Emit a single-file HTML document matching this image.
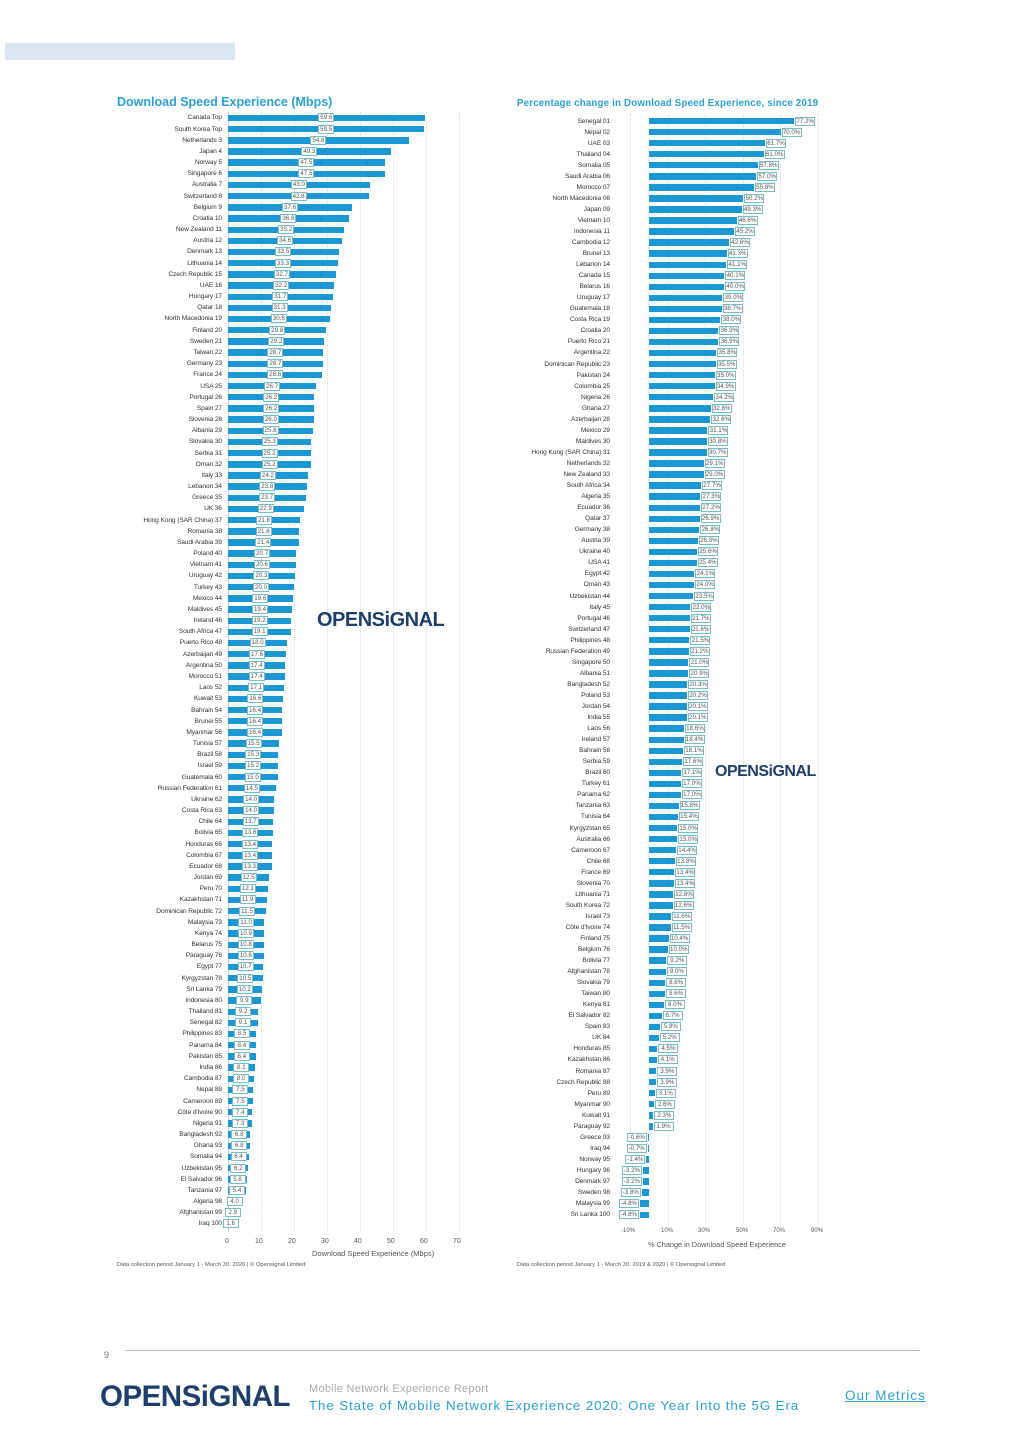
<!DOCTYPE html>
<html><head><meta charset="utf-8"><style>
*{margin:0;padding:0;box-sizing:border-box}
body{width:1024px;height:1449px;background:#fff;position:relative;overflow:hidden;font-family:"Liberation Sans",sans-serif}
.L{position:absolute;left:0;top:112.4px;width:1024px}
.R{position:absolute;left:0;top:115.5px;width:1024px}
.a,.p,.n{position:relative;width:1024px}
.a{height:11.18px}.p,.n{height:11.06px}
.a i,.p i,.n i{font-style:normal;position:absolute;font-size:6.6px;color:#333;line-height:11px;white-space:nowrap;letter-spacing:-0.1px}
.a i{right:802px}.p i,.n i{right:414px}
.a b,.p b,.n b{position:absolute;top:2.4px;height:6.4px;background:#1b98d3}
.a b{left:228px;width:calc(var(--v)*3.3px)}
.p b{left:649px;width:calc(var(--v)*1.88px)}
.n b{left:calc(649px - var(--v)*1.88px);width:calc(var(--v)*1.88px)}
.a u,.p u,.n u{text-decoration:none;position:absolute;top:1px;height:9px;background:#fff;border:1px solid #7bbcc8;font-size:6.2px;line-height:7px;text-align:center;color:#555}
.a u{width:16px;left:calc(228px + var(--v)*1.65px - 8px)}
.p u{width:20px;left:calc(649px + var(--v)*1.88px + 1px)}
.n u{width:20px;left:calc(649px - var(--v)*1.88px - 21px)}
.g{position:absolute;border-left:1px dotted #ddd}
.t{position:absolute;font-size:7px;color:#555}
.logo{position:absolute;font-weight:bold;color:#1f3f6b;letter-spacing:-0.5px}
</style></head><body>
<div style="position:absolute;left:5px;top:43px;width:230px;height:17px;background:#dde6f3"></div>
<div style="position:absolute;left:117px;top:95px;font-size:12.5px;font-weight:bold;color:#2aa0d4">Download Speed Experience (Mbps)</div>
<div style="position:absolute;left:517px;top:98px;font-size:9.7px;font-weight:bold;color:#2aa0d4;letter-spacing:0.2px">Percentage change in Download Speed Experience, since 2019</div>
<div class="g" style="left:261px;top:112px;height:1120px"></div><div class="g" style="left:294px;top:112px;height:1120px"></div><div class="g" style="left:327px;top:112px;height:1120px"></div><div class="g" style="left:360px;top:112px;height:1120px"></div><div class="g" style="left:393px;top:112px;height:1120px"></div><div class="g" style="left:426px;top:112px;height:1120px"></div><div class="g" style="left:459px;top:112px;height:1120px"></div>
<div class="g" style="left:228px;top:112px;height:1120px;border-left:1px solid #ccc"></div>
<div class="g" style="left:630px;top:114px;height:1110px"></div><div class="g" style="left:668px;top:114px;height:1110px"></div><div class="g" style="left:705px;top:114px;height:1110px"></div><div class="g" style="left:743px;top:114px;height:1110px"></div><div class="g" style="left:780px;top:114px;height:1110px"></div><div class="g" style="left:818px;top:114px;height:1110px"></div>
<div class="L">
<div class="a" style="--v:59.6"><i>Canada Top</i><b></b><u>59.6</u></div>
<div class="a" style="--v:59.5"><i>South Korea Top</i><b></b><u>59.5</u></div>
<div class="a" style="--v:54.8"><i>Netherlands 3</i><b></b><u>54.8</u></div>
<div class="a" style="--v:49.3"><i>Japan 4</i><b></b><u>49.3</u></div>
<div class="a" style="--v:47.5"><i>Norway 5</i><b></b><u>47.5</u></div>
<div class="a" style="--v:47.5"><i>Singapore 6</i><b></b><u>47.5</u></div>
<div class="a" style="--v:43.0"><i>Australia 7</i><b></b><u>43.0</u></div>
<div class="a" style="--v:42.8"><i>Switzerland 8</i><b></b><u>42.8</u></div>
<div class="a" style="--v:37.6"><i>Belgium 9</i><b></b><u>37.6</u></div>
<div class="a" style="--v:36.6"><i>Croatia 10</i><b></b><u>36.6</u></div>
<div class="a" style="--v:35.2"><i>New Zealand 11</i><b></b><u>35.2</u></div>
<div class="a" style="--v:34.6"><i>Austria 12</i><b></b><u>34.6</u></div>
<div class="a" style="--v:33.5"><i>Denmark 13</i><b></b><u>33.5</u></div>
<div class="a" style="--v:33.3"><i>Lithuania 14</i><b></b><u>33.3</u></div>
<div class="a" style="--v:32.7"><i>Czech Republic 15</i><b></b><u>32.7</u></div>
<div class="a" style="--v:32.2"><i>UAE 16</i><b></b><u>32.2</u></div>
<div class="a" style="--v:31.7"><i>Hungary 17</i><b></b><u>31.7</u></div>
<div class="a" style="--v:31.3"><i>Qatar 18</i><b></b><u>31.3</u></div>
<div class="a" style="--v:30.8"><i>North Macedonia 19</i><b></b><u>30.8</u></div>
<div class="a" style="--v:29.8"><i>Finland 20</i><b></b><u>29.8</u></div>
<div class="a" style="--v:29.2"><i>Sweden 21</i><b></b><u>29.2</u></div>
<div class="a" style="--v:28.7"><i>Taiwan 22</i><b></b><u>28.7</u></div>
<div class="a" style="--v:28.7"><i>Germany 23</i><b></b><u>28.7</u></div>
<div class="a" style="--v:28.6"><i>France 24</i><b></b><u>28.6</u></div>
<div class="a" style="--v:26.7"><i>USA 25</i><b></b><u>26.7</u></div>
<div class="a" style="--v:26.2"><i>Portugal 26</i><b></b><u>26.2</u></div>
<div class="a" style="--v:26.2"><i>Spain 27</i><b></b><u>26.2</u></div>
<div class="a" style="--v:26.0"><i>Slovenia 28</i><b></b><u>26.0</u></div>
<div class="a" style="--v:25.8"><i>Albania 29</i><b></b><u>25.8</u></div>
<div class="a" style="--v:25.3"><i>Slovakia 30</i><b></b><u>25.3</u></div>
<div class="a" style="--v:25.2"><i>Serbia 31</i><b></b><u>25.2</u></div>
<div class="a" style="--v:25.2"><i>Oman 32</i><b></b><u>25.2</u></div>
<div class="a" style="--v:24.2"><i>Italy 33</i><b></b><u>24.2</u></div>
<div class="a" style="--v:23.8"><i>Lebanon 34</i><b></b><u>23.8</u></div>
<div class="a" style="--v:23.7"><i>Greece 35</i><b></b><u>23.7</u></div>
<div class="a" style="--v:22.9"><i>UK 36</i><b></b><u>22.9</u></div>
<div class="a" style="--v:21.8"><i>Hong Kong (SAR China) 37</i><b></b><u>21.8</u></div>
<div class="a" style="--v:21.6"><i>Romania 38</i><b></b><u>21.6</u></div>
<div class="a" style="--v:21.4"><i>Saudi Arabia 39</i><b></b><u>21.4</u></div>
<div class="a" style="--v:20.7"><i>Poland 40</i><b></b><u>20.7</u></div>
<div class="a" style="--v:20.6"><i>Vietnam 41</i><b></b><u>20.6</u></div>
<div class="a" style="--v:20.3"><i>Uruguay 42</i><b></b><u>20.3</u></div>
<div class="a" style="--v:20.0"><i>Turkey 43</i><b></b><u>20.0</u></div>
<div class="a" style="--v:19.6"><i>Mexico 44</i><b></b><u>19.6</u></div>
<div class="a" style="--v:19.4"><i>Maldives 45</i><b></b><u>19.4</u></div>
<div class="a" style="--v:19.2"><i>Ireland 46</i><b></b><u>19.2</u></div>
<div class="a" style="--v:19.1"><i>South Africa 47</i><b></b><u>19.1</u></div>
<div class="a" style="--v:18.0"><i>Puerto Rico 48</i><b></b><u>18.0</u></div>
<div class="a" style="--v:17.6"><i>Azerbaijan 49</i><b></b><u>17.6</u></div>
<div class="a" style="--v:17.4"><i>Argentina 50</i><b></b><u>17.4</u></div>
<div class="a" style="--v:17.4"><i>Morocco 51</i><b></b><u>17.4</u></div>
<div class="a" style="--v:17.1"><i>Laos 52</i><b></b><u>17.1</u></div>
<div class="a" style="--v:16.6"><i>Kuwait 53</i><b></b><u>16.6</u></div>
<div class="a" style="--v:16.4"><i>Bahrain 54</i><b></b><u>16.4</u></div>
<div class="a" style="--v:16.4"><i>Brunei 55</i><b></b><u>16.4</u></div>
<div class="a" style="--v:16.4"><i>Myanmar 56</i><b></b><u>16.4</u></div>
<div class="a" style="--v:15.5"><i>Tunisia 57</i><b></b><u>15.5</u></div>
<div class="a" style="--v:15.3"><i>Brazil 58</i><b></b><u>15.3</u></div>
<div class="a" style="--v:15.2"><i>Israel 59</i><b></b><u>15.2</u></div>
<div class="a" style="--v:15.0"><i>Guatemala 60</i><b></b><u>15.0</u></div>
<div class="a" style="--v:14.5"><i>Russian Federation 61</i><b></b><u>14.5</u></div>
<div class="a" style="--v:14.0"><i>Ukraine 62</i><b></b><u>14.0</u></div>
<div class="a" style="--v:14.0"><i>Costa Rica 63</i><b></b><u>14.0</u></div>
<div class="a" style="--v:13.7"><i>Chile 64</i><b></b><u>13.7</u></div>
<div class="a" style="--v:13.6"><i>Bolivia 65</i><b></b><u>13.6</u></div>
<div class="a" style="--v:13.4"><i>Honduras 66</i><b></b><u>13.4</u></div>
<div class="a" style="--v:13.4"><i>Colombia 67</i><b></b><u>13.4</u></div>
<div class="a" style="--v:13.3"><i>Ecuador 68</i><b></b><u>13.3</u></div>
<div class="a" style="--v:12.5"><i>Jordan 69</i><b></b><u>12.5</u></div>
<div class="a" style="--v:12.1"><i>Peru 70</i><b></b><u>12.1</u></div>
<div class="a" style="--v:11.9"><i>Kazakhstan 71</i><b></b><u>11.9</u></div>
<div class="a" style="--v:11.5"><i>Dominican Republic 72</i><b></b><u>11.5</u></div>
<div class="a" style="--v:11.0"><i>Malaysia 73</i><b></b><u>11.0</u></div>
<div class="a" style="--v:10.9"><i>Kenya 74</i><b></b><u>10.9</u></div>
<div class="a" style="--v:10.8"><i>Belarus 75</i><b></b><u>10.8</u></div>
<div class="a" style="--v:10.8"><i>Paraguay 76</i><b></b><u>10.8</u></div>
<div class="a" style="--v:10.7"><i>Egypt 77</i><b></b><u>10.7</u></div>
<div class="a" style="--v:10.5"><i>Kyrgyzstan 78</i><b></b><u>10.5</u></div>
<div class="a" style="--v:10.2"><i>Sri Lanka 79</i><b></b><u>10.2</u></div>
<div class="a" style="--v:9.9"><i>Indonesia 80</i><b></b><u>9.9</u></div>
<div class="a" style="--v:9.2"><i>Thailand 81</i><b></b><u>9.2</u></div>
<div class="a" style="--v:9.1"><i>Senegal 82</i><b></b><u>9.1</u></div>
<div class="a" style="--v:8.5"><i>Philippines 83</i><b></b><u>8.5</u></div>
<div class="a" style="--v:8.4"><i>Panama 84</i><b></b><u>8.4</u></div>
<div class="a" style="--v:8.4"><i>Pakistan 85</i><b></b><u>8.4</u></div>
<div class="a" style="--v:8.1"><i>India 86</i><b></b><u>8.1</u></div>
<div class="a" style="--v:8.0"><i>Cambodia 87</i><b></b><u>8.0</u></div>
<div class="a" style="--v:7.5"><i>Nepal 88</i><b></b><u>7.5</u></div>
<div class="a" style="--v:7.5"><i>Cameroon 89</i><b></b><u>7.5</u></div>
<div class="a" style="--v:7.4"><i>Côte d'Ivoire 90</i><b></b><u>7.4</u></div>
<div class="a" style="--v:7.3"><i>Nigeria 91</i><b></b><u>7.3</u></div>
<div class="a" style="--v:6.8"><i>Bangladesh 92</i><b></b><u>6.8</u></div>
<div class="a" style="--v:6.8"><i>Ghana 93</i><b></b><u>6.8</u></div>
<div class="a" style="--v:6.4"><i>Somalia 94</i><b></b><u>6.4</u></div>
<div class="a" style="--v:6.2"><i>Uzbekistan 95</i><b></b><u>6.2</u></div>
<div class="a" style="--v:5.8"><i>El Salvador 96</i><b></b><u>5.8</u></div>
<div class="a" style="--v:5.4"><i>Tanzania 97</i><b></b><u>5.4</u></div>
<div class="a" style="--v:4.0"><i>Algeria 98</i><b></b><u>4.0</u></div>
<div class="a" style="--v:2.9"><i>Afghanistan 99</i><b></b><u>2.9</u></div>
<div class="a" style="--v:1.6"><i>Iraq 100</i><b></b><u>1.6</u></div>
</div>
<div class="R">
<div class="p" style="--v:77.2"><i>Senegal 01</i><b></b><u>77.2%</u></div>
<div class="p" style="--v:70.0"><i>Nepal 02</i><b></b><u>70.0%</u></div>
<div class="p" style="--v:61.7"><i>UAE 03</i><b></b><u>61.7%</u></div>
<div class="p" style="--v:61.0"><i>Thailand 04</i><b></b><u>61.0%</u></div>
<div class="p" style="--v:57.8"><i>Somalia 05</i><b></b><u>57.8%</u></div>
<div class="p" style="--v:57.0"><i>Saudi Arabia 06</i><b></b><u>57.0%</u></div>
<div class="p" style="--v:55.8"><i>Morocco 07</i><b></b><u>55.8%</u></div>
<div class="p" style="--v:50.2"><i>North Macedonia 08</i><b></b><u>50.2%</u></div>
<div class="p" style="--v:49.3"><i>Japan 09</i><b></b><u>49.3%</u></div>
<div class="p" style="--v:46.6"><i>Vietnam 10</i><b></b><u>46.6%</u></div>
<div class="p" style="--v:45.2"><i>Indonesia 11</i><b></b><u>45.2%</u></div>
<div class="p" style="--v:42.6"><i>Cambodia 12</i><b></b><u>42.6%</u></div>
<div class="p" style="--v:41.3"><i>Brunei 13</i><b></b><u>41.3%</u></div>
<div class="p" style="--v:41.1"><i>Lebanon 14</i><b></b><u>41.1%</u></div>
<div class="p" style="--v:40.1"><i>Canada 15</i><b></b><u>40.1%</u></div>
<div class="p" style="--v:40.0"><i>Belarus 16</i><b></b><u>40.0%</u></div>
<div class="p" style="--v:39.0"><i>Uruguay 17</i><b></b><u>39.0%</u></div>
<div class="p" style="--v:38.7"><i>Guatemala 18</i><b></b><u>38.7%</u></div>
<div class="p" style="--v:38.0"><i>Costa Rica 19</i><b></b><u>38.0%</u></div>
<div class="p" style="--v:36.9"><i>Croatia 20</i><b></b><u>36.9%</u></div>
<div class="p" style="--v:36.9"><i>Puerto Rico 21</i><b></b><u>36.9%</u></div>
<div class="p" style="--v:35.8"><i>Argentina 22</i><b></b><u>35.8%</u></div>
<div class="p" style="--v:35.5"><i>Dominican Republic 23</i><b></b><u>35.5%</u></div>
<div class="p" style="--v:35.0"><i>Pakistan 24</i><b></b><u>35.0%</u></div>
<div class="p" style="--v:34.9"><i>Colombia 25</i><b></b><u>34.9%</u></div>
<div class="p" style="--v:34.2"><i>Nigeria 26</i><b></b><u>34.2%</u></div>
<div class="p" style="--v:32.8"><i>Ghana 27</i><b></b><u>32.8%</u></div>
<div class="p" style="--v:32.6"><i>Azerbaijan 28</i><b></b><u>32.6%</u></div>
<div class="p" style="--v:31.1"><i>Mexico 29</i><b></b><u>31.1%</u></div>
<div class="p" style="--v:30.8"><i>Maldives 30</i><b></b><u>30.8%</u></div>
<div class="p" style="--v:30.7"><i>Hong Kong (SAR China) 31</i><b></b><u>30.7%</u></div>
<div class="p" style="--v:29.1"><i>Netherlands 32</i><b></b><u>29.1%</u></div>
<div class="p" style="--v:29.0"><i>New Zealand 33</i><b></b><u>29.0%</u></div>
<div class="p" style="--v:27.7"><i>South Africa 34</i><b></b><u>27.7%</u></div>
<div class="p" style="--v:27.3"><i>Algeria 35</i><b></b><u>27.3%</u></div>
<div class="p" style="--v:27.2"><i>Ecuador 36</i><b></b><u>27.2%</u></div>
<div class="p" style="--v:26.9"><i>Qatar 37</i><b></b><u>26.9%</u></div>
<div class="p" style="--v:26.8"><i>Germany 38</i><b></b><u>26.8%</u></div>
<div class="p" style="--v:26.0"><i>Austria 39</i><b></b><u>26.0%</u></div>
<div class="p" style="--v:25.6"><i>Ukraine 40</i><b></b><u>25.6%</u></div>
<div class="p" style="--v:25.4"><i>USA 41</i><b></b><u>25.4%</u></div>
<div class="p" style="--v:24.1"><i>Egypt 42</i><b></b><u>24.1%</u></div>
<div class="p" style="--v:24.0"><i>Oman 43</i><b></b><u>24.0%</u></div>
<div class="p" style="--v:23.5"><i>Uzbekistan 44</i><b></b><u>23.5%</u></div>
<div class="p" style="--v:22.0"><i>Italy 45</i><b></b><u>22.0%</u></div>
<div class="p" style="--v:21.7"><i>Portugal 46</i><b></b><u>21.7%</u></div>
<div class="p" style="--v:21.6"><i>Switzerland 47</i><b></b><u>21.6%</u></div>
<div class="p" style="--v:21.5"><i>Philippines 48</i><b></b><u>21.5%</u></div>
<div class="p" style="--v:21.2"><i>Russian Federation 49</i><b></b><u>21.2%</u></div>
<div class="p" style="--v:21.0"><i>Singapore 50</i><b></b><u>21.0%</u></div>
<div class="p" style="--v:20.9"><i>Albania 51</i><b></b><u>20.9%</u></div>
<div class="p" style="--v:20.3"><i>Bangladesh 52</i><b></b><u>20.3%</u></div>
<div class="p" style="--v:20.2"><i>Poland 53</i><b></b><u>20.2%</u></div>
<div class="p" style="--v:20.1"><i>Jordan 54</i><b></b><u>20.1%</u></div>
<div class="p" style="--v:20.1"><i>India 55</i><b></b><u>20.1%</u></div>
<div class="p" style="--v:18.6"><i>Laos 56</i><b></b><u>18.6%</u></div>
<div class="p" style="--v:18.4"><i>Ireland 57</i><b></b><u>18.4%</u></div>
<div class="p" style="--v:18.1"><i>Bahrain 58</i><b></b><u>18.1%</u></div>
<div class="p" style="--v:17.6"><i>Serbia 59</i><b></b><u>17.6%</u></div>
<div class="p" style="--v:17.1"><i>Brazil 60</i><b></b><u>17.1%</u></div>
<div class="p" style="--v:17.0"><i>Turkey 61</i><b></b><u>17.0%</u></div>
<div class="p" style="--v:17.0"><i>Panama 62</i><b></b><u>17.0%</u></div>
<div class="p" style="--v:15.8"><i>Tanzania 63</i><b></b><u>15.8%</u></div>
<div class="p" style="--v:15.4"><i>Tunisia 64</i><b></b><u>15.4%</u></div>
<div class="p" style="--v:15.0"><i>Kyrgyzstan 65</i><b></b><u>15.0%</u></div>
<div class="p" style="--v:15.0"><i>Australia 66</i><b></b><u>15.0%</u></div>
<div class="p" style="--v:14.4"><i>Cameroon 67</i><b></b><u>14.4%</u></div>
<div class="p" style="--v:13.8"><i>Chile 68</i><b></b><u>13.8%</u></div>
<div class="p" style="--v:13.4"><i>France 69</i><b></b><u>13.4%</u></div>
<div class="p" style="--v:13.4"><i>Slovenia 70</i><b></b><u>13.4%</u></div>
<div class="p" style="--v:12.8"><i>Lithuania 71</i><b></b><u>12.8%</u></div>
<div class="p" style="--v:12.6"><i>South Korea 72</i><b></b><u>12.6%</u></div>
<div class="p" style="--v:11.6"><i>Israel 73</i><b></b><u>11.6%</u></div>
<div class="p" style="--v:11.5"><i>Côte d'Ivoire 74</i><b></b><u>11.5%</u></div>
<div class="p" style="--v:10.4"><i>Finland 75</i><b></b><u>10.4%</u></div>
<div class="p" style="--v:10.0"><i>Belgium 76</i><b></b><u>10.0%</u></div>
<div class="p" style="--v:9.2"><i>Bolivia 77</i><b></b><u>9.2%</u></div>
<div class="p" style="--v:9.0"><i>Afghanistan 78</i><b></b><u>9.0%</u></div>
<div class="p" style="--v:8.6"><i>Slovakia 79</i><b></b><u>8.6%</u></div>
<div class="p" style="--v:8.6"><i>Taiwan 80</i><b></b><u>8.6%</u></div>
<div class="p" style="--v:8.0"><i>Kenya 81</i><b></b><u>8.0%</u></div>
<div class="p" style="--v:6.7"><i>El Salvador 82</i><b></b><u>6.7%</u></div>
<div class="p" style="--v:5.8"><i>Spain 83</i><b></b><u>5.8%</u></div>
<div class="p" style="--v:5.2"><i>UK 84</i><b></b><u>5.2%</u></div>
<div class="p" style="--v:4.5"><i>Honduras 85</i><b></b><u>4.5%</u></div>
<div class="p" style="--v:4.1"><i>Kazakhstan 86</i><b></b><u>4.1%</u></div>
<div class="p" style="--v:3.9"><i>Romania 87</i><b></b><u>3.9%</u></div>
<div class="p" style="--v:3.9"><i>Czech Republic 88</i><b></b><u>3.9%</u></div>
<div class="p" style="--v:3.1"><i>Peru 89</i><b></b><u>3.1%</u></div>
<div class="p" style="--v:2.6"><i>Myanmar 90</i><b></b><u>2.6%</u></div>
<div class="p" style="--v:2.3"><i>Kuwait 91</i><b></b><u>2.3%</u></div>
<div class="p" style="--v:1.9"><i>Paraguay 92</i><b></b><u>1.9%</u></div>
<div class="n" style="--v:0.6"><i>Greece 93</i><b></b><u>-0.6%</u></div>
<div class="n" style="--v:0.7"><i>Iraq 94</i><b></b><u>-0.7%</u></div>
<div class="n" style="--v:1.4"><i>Norway 95</i><b></b><u>-1.4%</u></div>
<div class="n" style="--v:3.2"><i>Hungary 96</i><b></b><u>-3.2%</u></div>
<div class="n" style="--v:3.2"><i>Denmark 97</i><b></b><u>-3.2%</u></div>
<div class="n" style="--v:3.8"><i>Sweden 98</i><b></b><u>-3.8%</u></div>
<div class="n" style="--v:4.8"><i>Malaysia 99</i><b></b><u>-4.8%</u></div>
<div class="n" style="--v:4.8"><i>Sri Lanka 100</i><b></b><u>-4.8%</u></div>
</div>
<div class="t" style="left:225px;top:1238px">0</div><div class="t" style="left:255px;top:1238px">10</div><div class="t" style="left:288px;top:1238px">20</div><div class="t" style="left:321px;top:1238px">30</div><div class="t" style="left:354px;top:1238px">40</div><div class="t" style="left:387px;top:1238px">50</div><div class="t" style="left:420px;top:1238px">60</div><div class="t" style="left:453px;top:1238px">70</div>
<div class="t" style="left:312px;top:1249px;font-size:7.5px">Download Speed Experience (Mbps)</div>
<div class="t" style="left:117px;top:1262px;font-size:5.8px">Data collection period January 1 - March 30, 2020 | © Opensignal Limited</div>
<div class="t" style="left:621px;top:1228px;font-size:6px">-10%</div><div class="t" style="left:661px;top:1228px;font-size:6px">10%</div><div class="t" style="left:698px;top:1228px;font-size:6px">30%</div><div class="t" style="left:736px;top:1228px;font-size:6px">50%</div><div class="t" style="left:773px;top:1228px;font-size:6px">70%</div><div class="t" style="left:811px;top:1228px;font-size:6px">90%</div>
<div class="t" style="left:648px;top:1240px;font-size:7.3px">% Change in Download Speed Experience</div>
<div class="t" style="left:517px;top:1262px;font-size:5.8px">Data collection period January 1 - March 30, 2019 &amp; 2020 | © Opensignal Limited</div>
<div class="logo" style="left:317px;top:609px;font-size:20px">OPENSiGNAL</div>
<div class="logo" style="left:715px;top:763px;font-size:16px">OPENSiGNAL</div>
<div class="t" style="left:104px;top:1350px;font-size:9px;color:#777">9</div>
<div style="position:absolute;left:125px;top:1350px;width:795px;height:1px;background:#b8c2d2"></div>
<div class="logo" style="left:100px;top:1380px;font-size:29.5px">OPENSiGNAL</div>
<div class="t" style="left:309px;top:1383px;font-size:11px;color:#aaa;letter-spacing:0.3px">Mobile Network Experience Report</div>
<div class="t" style="left:309px;top:1398px;font-size:13.3px;color:#2aa0d4;letter-spacing:0.9px">The State of Mobile Network Experience 2020: One Year Into the 5G Era</div>
<div class="t" style="left:845px;top:1388px;font-size:13.5px;color:#2aa0d4;text-decoration:underline;letter-spacing:1px">Our Metrics</div>
</body></html>
